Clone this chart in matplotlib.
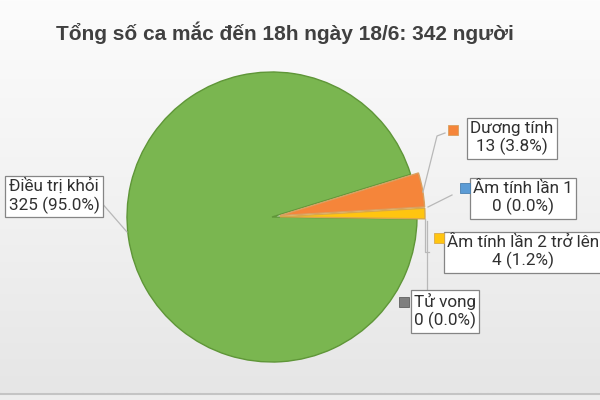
import numpy as np
import matplotlib.pyplot as plt

# ── dữ liệu ──────────────────────────────────
labels = ['Điều trị khỏi', 'Dương tính', 'Âm tính lần 1',
          'Âm tính lần 2 trở lên', 'Tử vong']
values = [325, 13, 0, 4, 0]
colors = ['#7ab650', '#f5853a', '#5b9bd5', '#ffc510', '#7f7f7f']
edge_colors = ['#5f9638', '#d8a060', '#4a80b0', '#d8a84a', '#606060']
title = 'Tổng số ca mắc đến 18h ngày 18/6: 342 người'

total = sum(values)

# ── bố cục (pixel, gốc trên-trái) ────────────
CX, CY, R = 272, 217, 145          # tâm và bán kính bánh
W, H = 600, 400

def px(x, y):
    """pixel -> toạ độ dữ liệu (đơn vị = bán kính)"""
    return (x - CX) / R, (CY - y) / R

# vị trí ô nhãn (tâm), ô màu chú thích, đường dẫn
box_pos = [(54, 196), (512, 138), (523, 198), (523, 252), (445, 311)]
key_pos = [None, (453, 130), (465, 188), (439, 238), (404, 302)]
leaders = [
    [(127, 232), (100, 201)],
    [(423, 192), (437, 136), (445, 133)],
    [(428, 207), (452, 195)],
    [(425, 219), (425, 252), (429, 252)],
    [(427, 221), (427, 291)],
]

fig = plt.figure(figsize=(6, 4), dpi=100)
ax = fig.add_axes([0, 0, 1, 1])
ax.set_xlim(px(0, 0)[0], px(W, 0)[0])
ax.set_ylim(px(0, H)[1], px(0, 0)[1])

# nền gradient xám nhạt
grad = np.linspace(0, 1, 256).reshape(-1, 1)
cmap = plt.matplotlib.colors.LinearSegmentedColormap.from_list(
    'bg', ['#fcfcfc', '#f2f2f2', '#e6e6e6'])
x0, y0 = px(0, 0)
x1, y1 = px(W, 393)
ax.imshow(grad, cmap=cmap, extent=[x0, x1, y1, y0], aspect='auto', zorder=0)
ax.axhspan(px(0, H)[1], px(0, 393)[1], color='#ededed', zorder=0)
ax.axhline(px(0, 394)[1], color='#c4c4c4', lw=1.5, zorder=0)

# ── bánh (chỉ vẽ lát > 0) ────────────────────
idx = [i for i, v in enumerate(values) if v > 0]
wedges, _ = ax.pie([values[i] for i in idx],
                   colors=[colors[i] for i in idx],
                   explode=[0 if i == 0 else 0.055 for i in idx],
                   startangle=-0.8, counterclock=False,
                   radius=1, center=(0, 0), frame=True,
                   wedgeprops=dict(linewidth=1.0))
for w, i in zip(wedges, idx):
    w.set_edgecolor(edge_colors[i])
    w.set_zorder(2)

ax.set_xlim(px(0, 0)[0], px(W, 0)[0])
ax.set_ylim(px(0, H)[1], px(0, 0)[1])
ax.set_aspect('auto')
ax.axis('off')

# ── nhãn ─────────────────────────────────────
font = ['Roboto', 'DejaVu Sans']
for i, lab in enumerate(labels):
    pts = np.array([px(*p) for p in leaders[i]])
    ax.plot(pts[:, 0], pts[:, 1], color='#b8b8b8', lw=0.9, zorder=3)
    pct = values[i] / total * 100
    ax.text(*px(*box_pos[i]), f'{lab}\n{values[i]} ({pct:.1f}%)',
            ha='center', va='center', fontsize=12.3, family=font,
            color='#303030', linespacing=1.2, zorder=5,
            bbox=dict(boxstyle='square,pad=0.18', fc='#ffffff',
                      ec='#858585', lw=0.9))
    if key_pos[i] is not None:
        ax.plot(*px(*key_pos[i]), marker='s', markersize=7.5,
                color=colors[i], markeredgecolor=edge_colors[i],
                markeredgewidth=0.6, zorder=5)

fig.text(285 / W, 1 - 33 / H, title, ha='center', va='center',
         fontsize=15, fontweight='bold', family='Liberation Sans',
         color='#404040')

fig.savefig('out.png', dpi=100)
